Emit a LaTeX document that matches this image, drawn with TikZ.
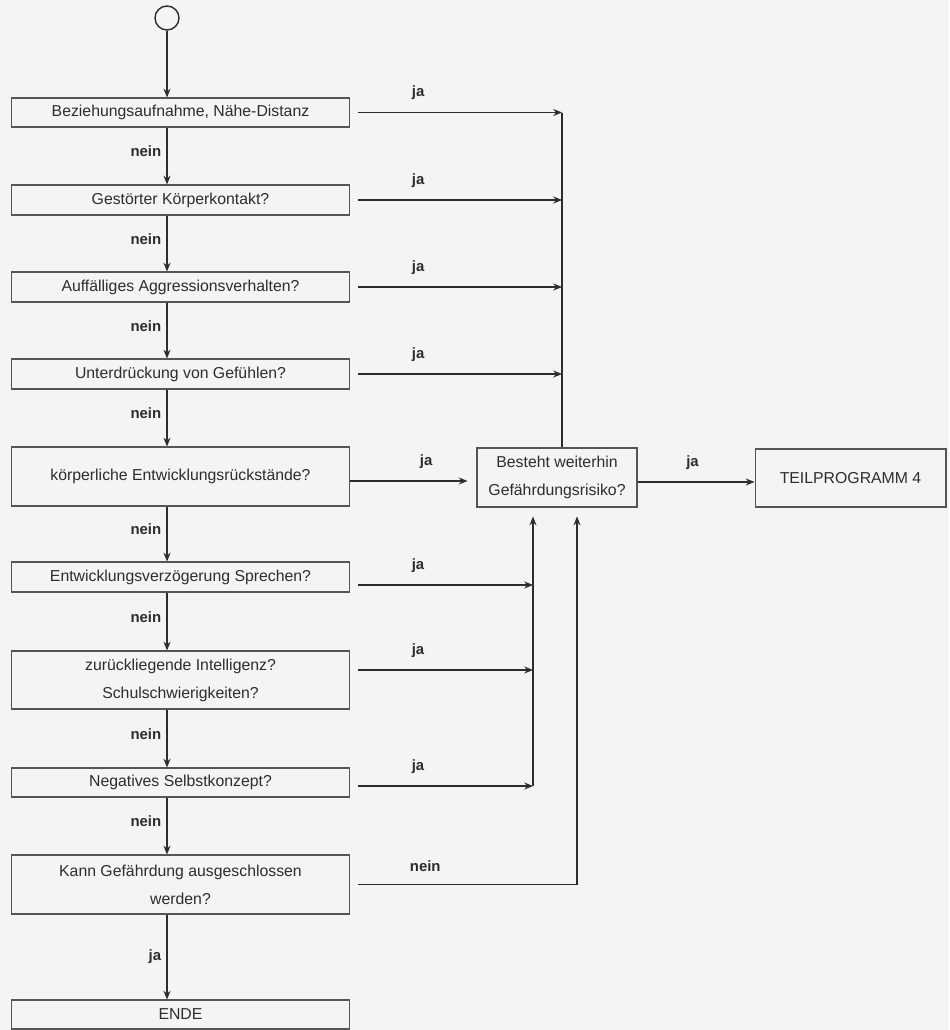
\documentclass[tikz,border=0pt]{standalone}
\usepackage{fontspec}
\setmainfont{Liberation Sans}
\definecolor{Ink}{RGB}{45,45,45}
\definecolor{Frame}{RGB}{85,85,85}
\definecolor{Paper}{RGB}{244,244,244}
\usetikzlibrary{arrows.meta}

\begin{document}
\begin{tikzpicture}[x=0.02cm,y=-0.02cm,
  box/.style={draw=Frame,line width=0.6pt,text=Ink,minimum width=6.78cm,align=center,font=\fontsize{9}{16}\selectfont},
  flow/.style={draw=Ink,line width=0.6pt,-{Stealth[length=5pt,width=4pt]}},
  lbl/.style={font=\fontsize{8.5}{10}\selectfont\bfseries,text=Ink,inner sep=1pt}]
  \fill[Paper] (0,0) rectangle (949,1030);
  \useasboundingbox (0,0) rectangle (949,1030);
  % main column
  \node[circle,draw=Ink,line width=0.8pt,minimum size=0.48cm,inner sep=0pt] (start) at (167,18) {};
  \node[box,minimum height=0.58cm] (b1) at (180.5,112.5) {Beziehungsaufnahme, Nähe-Distanz};
  \node[box,minimum height=0.6cm] (b2) at (180.5,200) {Gestörter Körperkontakt?};
  \node[box,minimum height=0.6cm] (b3) at (180.5,287) {Auffälliges Aggressionsverhalten?};
  \node[box,minimum height=0.6cm] (b4) at (180.5,374) {Unterdrückung von Gefühlen?};
  \node[box,minimum height=1.18cm] (b5) at (180.5,476.5) {körperliche Entwicklungsrückstände?};
  \node[box,minimum height=0.6cm] (b6) at (180.5,577) {Entwicklungsverzögerung Sprechen?};
  \node[box,minimum height=1.16cm] (b7) at (180.5,680) {zurückliegende Intelligenz?\\Schulschwierigkeiten?};
  \node[box,minimum height=0.58cm] (b8) at (180.5,782.5) {Negatives Selbstkonzept?};
  \node[box,minimum height=1.18cm] (b9) at (180.5,884.5) {Kann Gefährdung ausgeschlossen\\werden?};
  \node[box,minimum height=0.58cm] (b10) at (180.5,1014.5) {ENDE};
  % right side
  \node[box,minimum width=3.2cm,minimum height=1.18cm] (risk) at (557,477.5) {Besteht weiterhin\\Gefährdungsrisiko?};
  \node[box,minimum width=3.82cm,minimum height=1.16cm] (teil) at (850.5,478) {TEILPROGRAMM 4};
  \coordinate (jtop) at (562,113);
  \coordinate (jlow) at (533,0);
  \coordinate (nlow) at (577,0);

  \draw[flow] (start) -- (b1.north -| start);
  \foreach \a/\b in {b1/b2,b2/b3,b3/b4,b4/b5,b5/b6,b6/b7,b7/b8,b8/b9}
    \draw[flow] (\a.south -| start) -- node[lbl,left=2pt,pos=0.42] {nein} (\b.north -| start);
  \draw[flow] (b9.south -| start) -- node[lbl,left=2pt] {ja} (b10.north -| start);

  \foreach \b in {b1,b2,b3,b4}
    \draw[flow,shorten <=0.16cm] (\b.east) -- node[lbl,above=6pt,pos=0.32] {ja} (\b.east -| jtop);
  \draw[draw=Ink,line width=0.6pt] (jtop) -- (risk.north -| jtop);
  \draw[flow,shorten >=0.18cm] ([yshift=-0.09cm]b5.east) -- node[lbl,above=6pt,pos=0.6] {ja} ([yshift=-0.09cm]b5.east -| risk.west);
  \draw[flow] ([yshift=-0.09cm]risk.east) -- node[lbl,above=6pt,pos=0.47] {ja} ([yshift=-0.09cm]risk.east -| teil.west);

  \foreach \b/\s in {b6/-0.16,b7/0.2,b8/-0.07}
    \draw[flow,shorten <=0.16cm] ([yshift=\s cm]\b.east) -- node[lbl,above=6pt,pos=0.37] {ja} ([yshift=\s cm]\b.east -| jlow);
  \draw[flow,shorten >=0.18cm] ([yshift=-0.07cm]b8.east -| jlow) -- (risk.south -| jlow);
  \draw[flow,shorten <=0.16cm,shorten >=0.18cm] (b9.east) -- node[lbl,above=6pt,pos=0.33] {nein} (b9.east -| nlow) -- (risk.south -| nlow);
\end{tikzpicture}
\end{document}
